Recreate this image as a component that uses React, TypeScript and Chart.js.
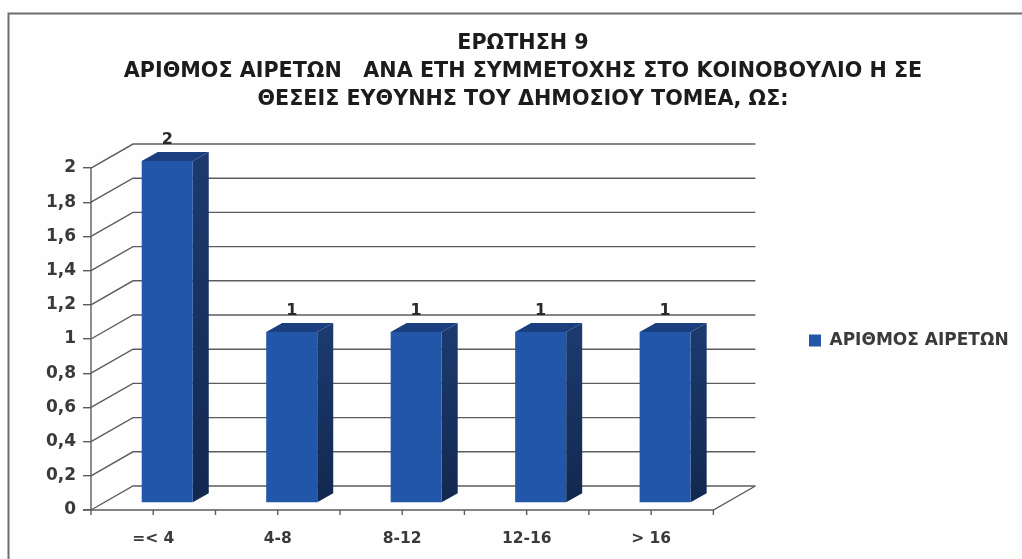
import React, { useEffect, useRef } from "react";
import { Chart, registerables } from "chart.js";

Chart.register(...registerables);

const categories = ["=< 4", "4-8", "8-12", "12-16", "> 16"];
const seriesLabel = "ΑΡΙΘΜΟΣ ΑΙΡΕΤΩΝ";
const seriesValues = [2, 1, 1, 1, 1];
const titleLines = [
  "ΕΡΩΤΗΣΗ 9",
  "ΑΡΙΘΜΟΣ ΑΙΡΕΤΩΝ   ΑΝΑ ΕΤΗ ΣΥΜΜΕΤΟΧΗΣ ΣΤΟ ΚΟΙΝΟΒΟΥΛΙΟ Η ΣΕ",
  "ΘΕΣΕΙΣ ΕΥΘΥΝΗΣ ΤΟΥ ΔΗΜΟΣΙΟΥ ΤΟΜΕΑ, ΩΣ:",
];

const FONT = "'DejaVu Sans', sans-serif";
const AXIS = "#5c5c5c";
const WALL = { dx: 42, dy: -24 };
const BAR_SHIFT = { dx: 14, dy: -7 };
const BAR_DEPTH = { dx: 16, dy: -9 };
const LEGEND_PAD = 10;
const PAD_RIGHT = 89;

const scene3d = {
  id: "scene3d",
  afterLayout(chart: any) {
    const l = chart.legend;
    if (l) {
      const w = l.right - l.left;
      l.left = 809 - LEGEND_PAD;
      l.right = l.left + w;
      l.top += 61;
      l.bottom += 61;
    }
    const t = chart.titleBlock;
    if (t) {
      const c = (t.left + t.right) / 2;
      t.left += 523 - c;
      t.right += 523 - c;
    }
  },
  beforeDraw(chart: any) {
    const { ctx, width, height } = chart;
    ctx.save();
    ctx.fillStyle = "#fefefe";
    ctx.fillRect(0, 0, width, height);
    ctx.strokeStyle = "#6e6e70";
    ctx.lineWidth = 2;
    ctx.beginPath();
    ctx.moveTo(8.5, height);
    ctx.lineTo(8.5, 13.5);
    ctx.lineTo(width, 13.5);
    ctx.stroke();
    ctx.restore();
  },
  beforeDatasetsDraw(chart: any) {
    const { ctx, chartArea } = chart;
    const y = chart.scales.y;
    const x = chart.scales.x;
    ctx.save();
    ctx.strokeStyle = AXIS;
    ctx.lineWidth = 1.4;
    y.ticks.forEach((t: any) => {
      const py = y.getPixelForValue(t.value);
      ctx.beginPath();
      ctx.moveTo(chartArea.left, py);
      ctx.lineTo(chartArea.left + WALL.dx, py + WALL.dy);
      ctx.lineTo(chartArea.right + WALL.dx, py + WALL.dy);
      ctx.stroke();
    });
    // floor's front and right edges, and the axis ticks
    const by = y.getPixelForValue(0);
    ctx.beginPath();
    ctx.moveTo(chartArea.left - 8, by);
    ctx.lineTo(chartArea.right, by);
    ctx.lineTo(chartArea.right + WALL.dx, by + WALL.dy);
    ctx.stroke();
    ctx.beginPath();
    ctx.moveTo(chartArea.left, y.getPixelForValue(2));
    ctx.lineTo(chartArea.left, by + 5);
    ctx.stroke();
    const band = (chartArea.right - chartArea.left) / categories.length;
    categories.forEach((_, i) => {
      const c = x.getPixelForValue(i);
      [c, c + band / 2].forEach((px) => {
        ctx.beginPath();
        ctx.moveTo(px, by);
        ctx.lineTo(px, by + 5);
        ctx.stroke();
      });
    });
    // side and top faces of the bars
    const meta = chart.getDatasetMeta(0);
    meta.data.forEach((bar: any) => {
      const half = bar.width / 2;
      const l = bar.x - half + BAR_SHIFT.dx;
      const r = bar.x + half + BAR_SHIFT.dx;
      const t = bar.y + BAR_SHIFT.dy;
      const b = bar.base + BAR_SHIFT.dy;
      const side = ctx.createLinearGradient(0, t, 0, b);
      side.addColorStop(0, "#1c3a6e");
      side.addColorStop(1, "#12284f");
      ctx.fillStyle = side;
      ctx.beginPath();
      ctx.moveTo(r, t);
      ctx.lineTo(r + BAR_DEPTH.dx, t + BAR_DEPTH.dy);
      ctx.lineTo(r + BAR_DEPTH.dx, b + BAR_DEPTH.dy);
      ctx.lineTo(r, b);
      ctx.closePath();
      ctx.fill();
      ctx.fillStyle = "#1b3f7e";
      ctx.beginPath();
      ctx.moveTo(l, t);
      ctx.lineTo(l + BAR_DEPTH.dx, t + BAR_DEPTH.dy);
      ctx.lineTo(r + BAR_DEPTH.dx, t + BAR_DEPTH.dy);
      ctx.lineTo(r, t);
      ctx.closePath();
      ctx.fill();
    });
    ctx.restore();
    // the library's bar rectangles become the front faces
    ctx.save();
    ctx.translate(BAR_SHIFT.dx, BAR_SHIFT.dy);
  },
  afterDatasetsDraw(chart: any) {
    const { ctx } = chart;
    ctx.restore();
    const meta = chart.getDatasetMeta(0);
    ctx.save();
    ctx.fillStyle = "#2a2a2a";
    ctx.font = `bold 16px ${FONT}`;
    ctx.textAlign = "center";
    ctx.textBaseline = "middle";
    meta.data.forEach((bar: any, i: number) => {
      ctx.fillText(String(seriesValues[i]), bar.x + BAR_SHIFT.dx, bar.y + BAR_SHIFT.dy - 21);
    });
    ctx.restore();
  },
};

export default function App() {
  const ref = useRef<HTMLCanvasElement>(null);
  useEffect(() => {
    document.body.style.margin = "0";
    const chart = new Chart(ref.current as HTMLCanvasElement, {
      type: "bar",
      data: {
        labels: categories,
        datasets: [
          {
            label: seriesLabel,
            data: seriesValues,
            backgroundColor: "#2156a8",
            borderWidth: 0,
            barPercentage: 0.41,
            categoryPercentage: 1,
          },
        ],
      },
      plugins: [scene3d],
      options: {
        animation: false,
        responsive: false,
        layout: { padding: { left: 22, right: PAD_RIGHT, top: 0, bottom: 0 } },
        plugins: {
          title: {
            display: true,
            text: titleLines,
            color: "#1c1c1c",
            font: { family: FONT, size: 20.7, weight: "bold", lineHeight: 1.353 },
            padding: { top: 30, bottom: 54 },
          },
          legend: {
            position: "right",
            labels: {
              color: "#3a3a3a",
              boxWidth: 12,
              boxHeight: 12,
              padding: LEGEND_PAD,
              font: { family: FONT, size: 17, weight: "bold" },
            },
          },
          tooltip: { enabled: false },
        },
        scales: {
          x: {
            grid: { display: false },
            border: { display: false },
            afterFit: (s: any) => {
              s.height = 49;
            },
            ticks: { color: "#3a3a3a", padding: 12, font: { family: FONT, size: 15.5, weight: "bold" } },
          },
          y: {
            min: 0,
            max: 2,
            afterFit: (s: any) => {
              s.width = 69;
            },
            grid: { drawOnChartArea: false, color: AXIS, lineWidth: 1.4, tickLength: 8 },
            border: { display: false },
            ticks: {
              stepSize: 0.2,
              padding: 7,
              color: "#3a3a3a",
              font: { family: FONT, size: 17, weight: "bold" },
              callback: (v: any) => String(Math.round(Number(v) * 10) / 10).replace(".", ","),
            },
          },
        },
      },
    } as any);
    return () => chart.destroy();
  }, []);
  return <canvas ref={ref} width={1022} height={559} style={{ display: "block" }} />;
}
